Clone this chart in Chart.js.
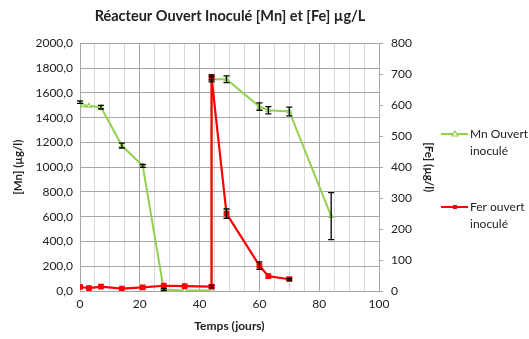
<!DOCTYPE html>
<html>
<head>
<meta charset="utf-8">
<script src="https://cdn.jsdelivr.net/npm/chart.js@4.4.0/dist/chart.umd.min.js"></script>
<style>
  html, body { margin: 0; padding: 0; background: #fff; }
  #wrap { width: 529px; height: 339px; position: relative; }
</style>
</head>
<body>
<div id="wrap"><canvas id="chartReacteur" width="529" height="339"></canvas></div>
<script>
// Mn (axe gauche)
const mnJours = [0, 1, 3, 7, 14, 21, 28, 35, 44, 44, 49, 60, 63, 70, 84];
const mnValeurs = [1525, 1500, 1495, 1485, 1175, 1010, 12, 5, 5, 1710, 1710, 1490, 1460, 1450, 605];
const mnErreurs = [10, 0, 0, 15, 20, 12, 8, 0, 0, 20, 27, 30, 30, 35, 190];

// Fe (axe droit)
const feJours = [0, 3, 7, 14, 21, 28, 35, 44, 44, 49, 60, 63, 70];
const feValeurs = [13, 9, 14, 8, 12, 17, 16, 14, 690, 250, 82, 48, 38];
const feErreurs = [0, 0, 0, 0, 0, 0, 0, 4, 8, 15, 12, 0, 3];

const legendeLabels = [['Mn Ouvert', 'inoculé'], ['Fer ouvert', 'inoculé']];
const couleurs = ['#92D050', '#FF0000'];
const police = 'Lato, "Open Sans", sans-serif';

const ctx = document.getElementById('chartReacteur').getContext('2d');

function points(xs, ys) {
  return xs.map((x, i) => ({ x: x, y: ys[i] }));
}

const errorBars = {
  id: 'errorBars',
  afterDatasetsDraw(chart) {
    const c = chart.ctx;
    const errs = [mnErreurs, feErreurs];
    c.save();
    c.strokeStyle = '#000';
    c.lineWidth = 1.3;
    chart.data.datasets.forEach((ds, di) => {
      const xs = chart.scales.x;
      const ys = chart.scales[ds.yAxisID];
      ds.data.forEach((p, i) => {
        const e = errs[di][i];
        if (!e) return;
        const px = xs.getPixelForValue(p.x);
        const top = ys.getPixelForValue(p.y + e);
        const bot = ys.getPixelForValue(Math.max(0, p.y - e));
        c.beginPath();
        c.moveTo(px, top); c.lineTo(px, bot);
        c.moveTo(px - 3, top); c.lineTo(px + 3, top);
        c.moveTo(px - 3, bot); c.lineTo(px + 3, bot);
        c.stroke();
      });
    });
    c.restore();
  },
  afterDraw(chart) {
    // légende à droite, sur deux lignes
    const c = chart.ctx;
    const rows = [134, 207];
    c.save();
    c.font = '12px ' + police;
    c.textBaseline = 'middle';
    rows.forEach((y, i) => {
      c.strokeStyle = couleurs[i];
      c.lineWidth = 2;
      c.beginPath();
      c.moveTo(441, y); c.lineTo(468, y);
      c.stroke();
      if (i === 0) {
        c.fillStyle = '#fff';
        c.beginPath();
        c.moveTo(455, y - 3); c.lineTo(458, y + 2); c.lineTo(452, y + 2); c.closePath();
        c.fill(); c.lineWidth = 1.2; c.stroke();
      } else {
        c.fillStyle = couleurs[1];
        c.fillRect(453, y - 2, 4, 4);
      }
      c.fillStyle = '#222';
      c.fillText(legendeLabels[i][0], 470, y);
      c.fillText(legendeLabels[i][1], 470, y + 17);
    });
    c.restore();
  }
};

new Chart(ctx, {
  type: 'scatter',
  data: {
    datasets: [{
      label: 'Mn Ouvert inoculé',
      data: points(mnJours, mnValeurs),
      yAxisID: 'y',
      order: 1,
      showLine: true,
      borderColor: couleurs[0],
      borderWidth: 2,
      pointStyle: 'triangle',
      pointRadius: 2.6,
      pointBackgroundColor: '#fff',
      pointBorderColor: couleurs[0],
      pointBorderWidth: 1.2
    }, {
      label: 'Fer ouvert inoculé',
      data: points(feJours, feValeurs),
      yAxisID: 'y1',
      order: 0,
      showLine: true,
      borderColor: couleurs[1],
      borderWidth: 2.2,
      pointStyle: 'rect',
      pointRadius: 2.5,
      pointBackgroundColor: couleurs[1],
      pointBorderColor: couleurs[1]
    }]
  },
  options: {
    responsive: false,
    animation: false,
    layout: { padding: { left: 0, right: 69, top: 0, bottom: 0 } },
    plugins: {
      legend: { display: false },
      tooltip: { enabled: false },
      title: {
        display: true,
        text: 'Réacteur Ouvert Inoculé [Mn] et [Fe] µg/L',
        color: '#222',
        font: { family: police, size: 14.5, weight: 'bold' },
        padding: { top: 8, bottom: 18 }
      }
    },
    scales: {
      x: {
        type: 'linear',
        min: 0,
        max: 100,
        afterFit: (s) => { s.height = 48; },
        ticks: {
          stepSize: 5,
          autoSkip: false,
          maxRotation: 0,
          padding: 6,
          color: '#222',
          font: { family: police, size: 12 },
          callback: (v) => (v % 20 === 0 ? v : '')
        },
        grid: {
          drawTicks: false,
          color: (c) => (c.tick && c.tick.value % 20 === 0 ? '#a6a6a6' : '#d9d9d9')
        },
        border: { color: '#a6a6a6' },
        title: {
          display: true,
          text: 'Temps (jours)',
          color: '#222',
          font: { family: police, size: 12, weight: 'bold' },
          padding: { top: 0, bottom: 6 }
        }
      },
      y: {
        position: 'left',
        min: 0,
        max: 2000,
        afterFit: (s) => { s.width = 80; },
        ticks: {
          stepSize: 200,
          padding: 7,
          color: '#222',
          font: { family: police, size: 12 },
          callback: (v) => v.toFixed(1).replace('.', ',')
        },
        grid: { drawTicks: false, color: '#a6a6a6' },
        border: { color: '#a6a6a6' },
        title: {
          display: true,
          text: '[Mn] (µg/l)',
          color: '#222',
          font: { family: police, size: 11.5, weight: 'bold' },
          padding: { top: 11, bottom: 0 }
        }
      },
      y1: {
        position: 'right',
        min: 0,
        max: 800,
        afterFit: (s) => { s.width = 81; },
        ticks: {
          stepSize: 100,
          padding: 8,
          color: '#222',
          font: { family: police, size: 12 }
        },
        grid: { drawOnChartArea: false, tickLength: 4, color: '#a6a6a6' },
        border: { color: '#a6a6a6' },
        title: {
          display: true,
          text: '[Fe] (µg/l)',
          color: '#222',
          font: { family: police, size: 11.5, weight: 'bold' },
          padding: { top: 24, bottom: 0 }
        }
      }
    }
  },
  plugins: [errorBars]
});
</script>
</body>
</html>
